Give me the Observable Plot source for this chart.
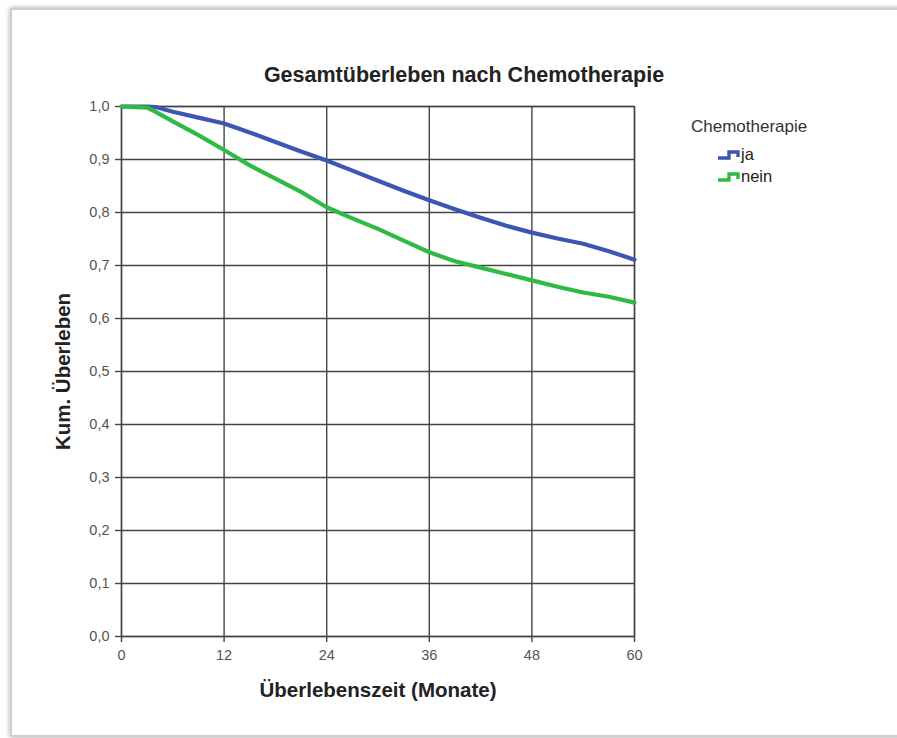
<!DOCTYPE html>
<html>
<head>
<meta charset="utf-8">
<script src="https://cdn.jsdelivr.net/npm/d3@7"></script>
<script src="https://cdn.jsdelivr.net/npm/@observablehq/plot@0.6"></script>
<style>
  html, body { margin: 0; padding: 0; background: #fff; }
  #wrap { position: relative; width: 897px; height: 738px; overflow: hidden; font-family: "Liberation Sans", Arial, sans-serif; }
  #frame { position: absolute; left: 10px; top: 8px; width: 900px; height: 725px; border: 2px solid #cfcfcf; box-shadow: 0 0 5px rgba(0,0,0,0.35); }
  #chart { position: absolute; left: 0; top: 0; }
  #legend { position: absolute; left: 691px; top: 116px; color: #333; font-size: 17px; }
  #legend .ttl { height: 22px; line-height: 22px; margin-bottom: 6px; }
  #legend .row { position: relative; height: 22px; line-height: 22px; }
  #legend .row svg { position: absolute; left: 27px; top: 5px; }
  #legend .row span { position: absolute; left: 50px; top: -1px; color: #222; font-size: 16.5px; }
</style>
</head>
<body>
<div id="wrap">
  <div id="frame"></div>
  <div id="chart"></div>
  <div id="legend"></div>
</div>
<script>
const title = "Gesamtüberleben nach Chemotherapie";
const xLabel = "Überlebenszeit (Monate)";
const yLabel = "Kum. Überleben";
const legendTitle = "Chemotherapie";
const groups = ["ja", "nein"];
const colors = ["#3d56b3", "#2fbb43"];
const xTicks = [0, 12, 24, 36, 48, 60];
const yTicks = [0, 0.1, 0.2, 0.3, 0.4, 0.5, 0.6, 0.7, 0.8, 0.9, 1.0];

const months = [0, 3, 4, 6, 9, 12, 15, 18, 21, 24, 27, 30, 33, 36, 39, 42, 45, 48, 51, 54, 57, 60];
const ja   = [1.0, 1.0, 0.999, 0.99, 0.979, 0.968, 0.951, 0.933, 0.915, 0.898, 0.879, 0.86, 0.841, 0.823, 0.806, 0.79, 0.775, 0.762, 0.751, 0.741, 0.727, 0.711];
const nein = [1.0, 0.998, 0.99, 0.972, 0.946, 0.918, 0.889, 0.864, 0.839, 0.81, 0.789, 0.769, 0.747, 0.725, 0.708, 0.696, 0.684, 0.672, 0.66, 0.649, 0.641, 0.63];

const rows = [];
months.forEach((m, i) => {
  rows.push({month: m, surv: ja[i], group: groups[0]});
  rows.push({month: m, surv: nein[i], group: groups[1]});
});

const fmt = d => d.toFixed(1).replace(".", ",");

const chart = Plot.plot({
  width: 897,
  height: 738,
  marginLeft: 121,
  marginRight: 263,
  marginTop: 106,
  marginBottom: 102,
  style: {fontFamily: "'Liberation Sans', Arial, sans-serif", background: "transparent"},
  x: {domain: [0, 60]},
  y: {domain: [0, 1]},
  color: {domain: groups, range: colors},
  marks: [
    Plot.gridX(xTicks, {stroke: "#444", strokeOpacity: 1, strokeWidth: 1.4}),
    Plot.gridY(yTicks, {stroke: "#444", strokeOpacity: 1, strokeWidth: 1.4}),
    Plot.frame({stroke: "#444", strokeWidth: 1.4}),
    Plot.axisX({ticks: xTicks, tickSize: 6, tickPadding: 7, label: null, fontSize: 14.5, color: "#555", stroke: "#444", strokeWidth: 1.4}),
    Plot.axisY({ticks: yTicks, tickSize: 6, tickPadding: 6, label: null, tickFormat: fmt, fontSize: 14.5, color: "#555", stroke: "#444", strokeWidth: 1.4}),
    Plot.line(rows, {x: "month", y: "surv", stroke: "group", z: "group", strokeWidth: 4.2, curve: "linear"}),
    Plot.text([title], {frameAnchor: "top", lineAnchor: "middle", textAnchor: "middle", dy: -31, dx: 86, fontWeight: "bold", fontSize: 21.5, fill: "#222"}),
    Plot.text([xLabel], {frameAnchor: "bottom", lineAnchor: "middle", textAnchor: "middle", dy: 54, fontWeight: "bold", fontSize: 20.5, fill: "#222"}),
    Plot.text([yLabel], {frameAnchor: "left", lineAnchor: "middle", textAnchor: "middle", dx: -58, rotate: -90, fontWeight: "bold", fontSize: 20.5, fill: "#222"})
  ]
});
document.getElementById("chart").appendChild(chart);

const lg = document.getElementById("legend");
const t = document.createElement("div");
t.className = "ttl";
t.textContent = legendTitle;
lg.appendChild(t);
groups.forEach((g, i) => {
  const r = document.createElement("div");
  r.className = "row";
  r.innerHTML = `<svg width="24" height="12"><path d="M0,9 H11 V3 H20 V8" fill="none" stroke="${colors[i]}" stroke-width="3.4"/></svg><span>${g}</span>`;
  lg.appendChild(r);
});
</script>
</body>
</html>
